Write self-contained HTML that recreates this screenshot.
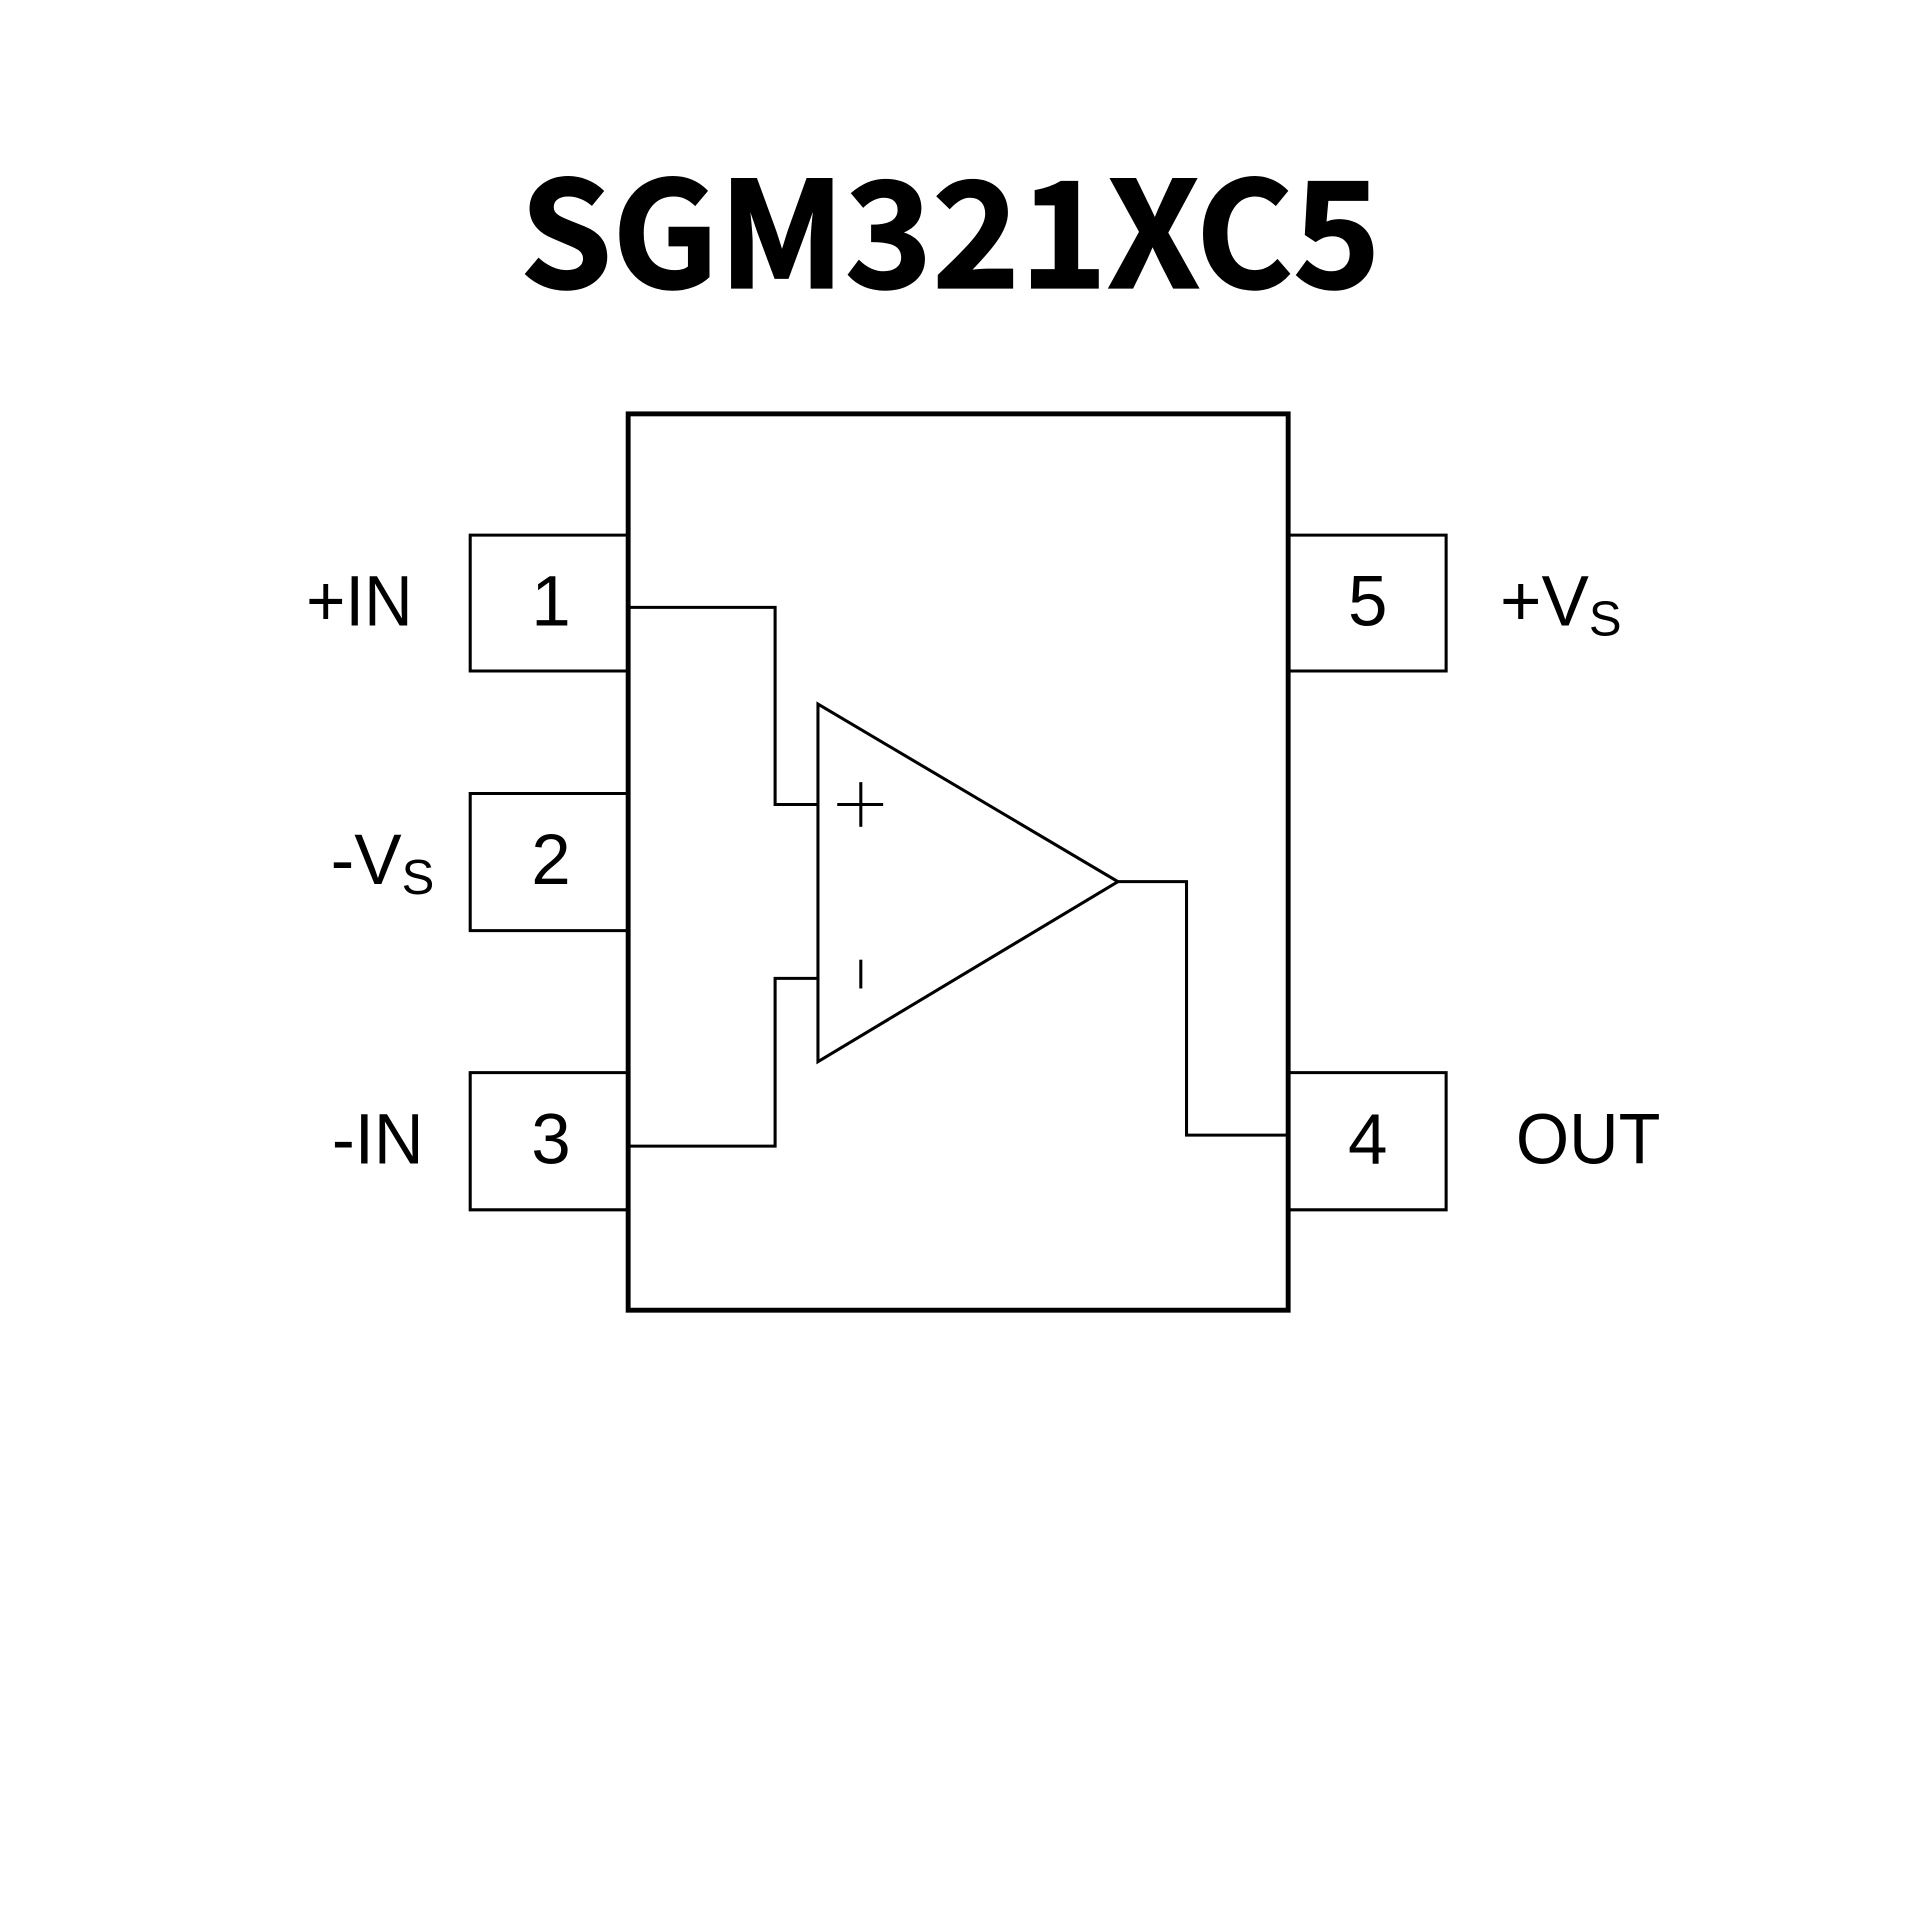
<!DOCTYPE html>
<html><head><meta charset="utf-8"><style>html,body{margin:0;padding:0;background:#fff}svg{display:block}</style></head>
<body>
<svg width="1920" height="1920" viewBox="0 0 1568 1568" xmlns="http://www.w3.org/2000/svg">
<rect width="1568" height="1568" fill="#fff"/>
<text x="776" y="235" text-anchor="middle" font-family="Noto Sans CJK SC, Liberation Sans, sans-serif" font-weight="bold" font-size="120" textLength="703" lengthAdjust="spacingAndGlyphs" stroke="#000" stroke-width="1.5">SGM321XC5</text>
<g fill="none" stroke="#000" stroke-linecap="square">
<rect x="513" y="338" width="539" height="732" stroke-width="4"/>
<g stroke-width="2.5">
<polyline points="513,437 384,437 384,548 513,548"/>
<polyline points="513,648 384,648 384,760 513,760"/>
<polyline points="513,876 384,876 384,988 513,988"/>
<polyline points="1052,437 1181,437 1181,548 1052,548"/>
<polyline points="1052,876 1181,876 1181,988 1052,988"/>
<polyline points="515,496 633,496 633,657 668,657"/>
<polyline points="515,936 633,936 633,799 668,799"/>
<polygon points="668,575 668,867 913,720"/>
<polyline points="913,720 969,720 969,927 1050,927"/>
<line x1="685" y1="657" x2="720" y2="657"/>
<line x1="703" y1="640" x2="703" y2="674"/>
<line x1="703" y1="785" x2="703" y2="806"/>
</g>
</g>
<g font-family="Liberation Sans, sans-serif" font-size="58" fill="#000">
<text x="450" y="511" text-anchor="middle">1</text>
<text x="450" y="722" text-anchor="middle">2</text>
<text x="450" y="950" text-anchor="middle">3</text>
<text x="1117" y="511" text-anchor="middle">5</text>
<text x="1117" y="950" text-anchor="middle">4</text>
<text x="250" y="511" textLength="87" lengthAdjust="spacingAndGlyphs">+IN</text>
<text x="270" y="722">-V<tspan font-size="40" dy="8">S</tspan></text>
<text x="271" y="950" textLength="75" lengthAdjust="spacingAndGlyphs">-IN</text>
<text x="1225" y="511">+V<tspan font-size="40" dy="8">S</tspan></text>
<text x="1238" y="950" textLength="118" lengthAdjust="spacingAndGlyphs">OUT</text>
</g>
</svg>
</body></html>
